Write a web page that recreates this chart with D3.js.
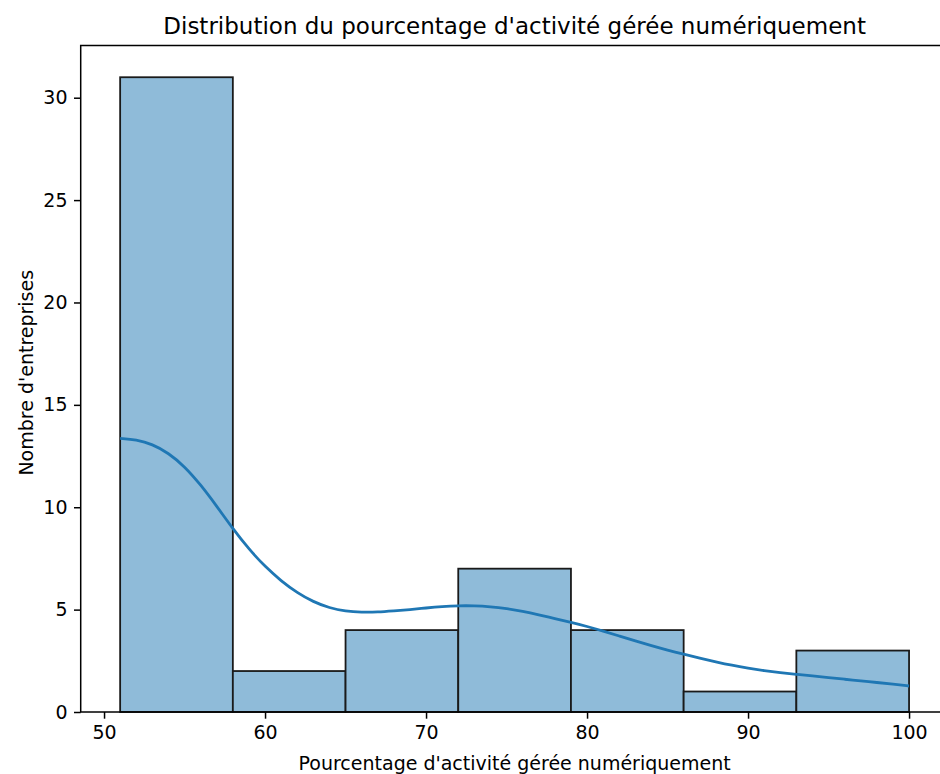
<!DOCTYPE html>
<html>
<head>
<meta charset="utf-8">
<script src="https://cdn.jsdelivr.net/npm/d3@7"></script>
<style>
  body { margin: 0; background: #fff; }
  svg { display: block; font-family: "DejaVu Sans", sans-serif; }
</style>
</head>
<body>
<div id="chart"></div>
<script>
// Histogram bins and counts
const binEdges = [51, 58, 65, 72, 79, 86, 93, 100];
const counts = [31, 2, 4, 7, 4, 1, 3];

// KDE curve (x, count scale)
const kdeX = [51, 52, 53, 54, 55, 56, 57, 58, 59, 60, 61, 62, 63, 64, 65, 66, 67, 68, 69, 70,
              71, 72, 73, 74, 75, 76, 77, 78, 79, 80, 81, 82, 83, 84, 85, 86, 87, 88, 89, 90,
              91, 92, 93, 94, 95, 96, 97, 98, 99, 100];
const kdeY = [13.36, 13.3, 13.08, 12.65, 12.0, 11.1, 10.05, 8.95, 7.95, 7.1, 6.4, 5.82, 5.38, 5.08, 4.92, 4.87, 4.88, 4.94, 5.0, 5.08,
              5.15, 5.19, 5.19, 5.14, 5.05, 4.92, 4.75, 4.56, 4.38, 4.18, 3.95, 3.71, 3.47, 3.24, 3.02, 2.82, 2.63, 2.45, 2.28, 2.14,
              2.02, 1.92, 1.84, 1.76, 1.68, 1.6, 1.52, 1.44, 1.36, 1.27];

const xTicks = [50, 60, 70, 80, 90, 100];
const yTicks = [0, 5, 10, 15, 20, 25, 30];

const width = 940;
const height = 774;
const plot = { left: 80.7, right: 948.5, top: 45.5, bottom: 712 };

const svg = d3.select("#chart")
    .append("svg")
    .attr("width", width)
    .attr("height", height);

const xScale = d3.scaleLinear()
    .domain([48.55, 102.45])
    .range([plot.left, plot.right]);

const yScale = d3.scaleLinear()
    .domain([0, 32.55])
    .range([plot.bottom, plot.top]);

// Bars
const bins = counts.map((c, i) => ({ x0: binEdges[i], x1: binEdges[i + 1], n: c }));

svg.append("g")
    .selectAll("rect")
    .data(bins)
    .join("rect")
    .attr("x", d => xScale(d.x0))
    .attr("y", d => yScale(d.n))
    .attr("width", d => xScale(d.x1) - xScale(d.x0))
    .attr("height", d => yScale(0) - yScale(d.n))
    .attr("fill", "#8fbbd9")
    .attr("stroke", "#1a1a1a")
    .attr("stroke-width", 1.8);

// KDE line
const kde = kdeX.map((x, i) => ({ x, y: kdeY[i] }));
const line = d3.line()
    .x(d => xScale(d.x))
    .y(d => yScale(d.y))
    .curve(d3.curveBasis);

svg.append("path")
    .datum(kde)
    .attr("fill", "none")
    .attr("stroke", "#1f77b4")
    .attr("stroke-width", 2.8)
    .attr("d", line);

// Spines
svg.append("rect")
    .attr("x", plot.left)
    .attr("y", plot.top)
    .attr("width", plot.right - plot.left)
    .attr("height", plot.bottom - plot.top)
    .attr("fill", "none")
    .attr("stroke", "#000")
    .attr("stroke-width", 1.5);

// Axes
const xAxis = svg.append("g")
    .attr("transform", `translate(0,${plot.bottom})`)
    .call(d3.axisBottom(xScale).tickValues(xTicks).tickSize(6.7).tickPadding(6.5).tickFormat(d3.format("d")));

const yAxis = svg.append("g")
    .attr("transform", `translate(${plot.left},0)`)
    .call(d3.axisLeft(yScale).tickValues(yTicks).tickSize(6.7).tickPadding(6.5).tickFormat(d3.format("d")));

[xAxis, yAxis].forEach(g => {
    g.select(".domain").remove();
    g.selectAll(".tick line").attr("stroke", "#000").attr("stroke-width", 1.5);
    g.selectAll(".tick text")
        .attr("fill", "#000")
        .style("font-size", "19px")
        .style("font-family", "DejaVu Sans, sans-serif");
});

// Title and axis labels
svg.append("text")
    .attr("x", (plot.left + plot.right) / 2)
    .attr("y", 34)
    .attr("text-anchor", "middle")
    .style("font-size", "23px")
    .text("Distribution du pourcentage d'activité gérée numériquement");

svg.append("text")
    .attr("x", (plot.left + plot.right) / 2)
    .attr("y", 770)
    .attr("text-anchor", "middle")
    .style("font-size", "19px")
    .text("Pourcentage d'activité gérée numériquement");

svg.append("text")
    .attr("transform", `translate(33,${(plot.top + plot.bottom) / 2 - 6}) rotate(-90)`)
    .attr("text-anchor", "middle")
    .style("font-size", "19px")
    .text("Nombre d'entreprises");
</script>
</body>
</html>
